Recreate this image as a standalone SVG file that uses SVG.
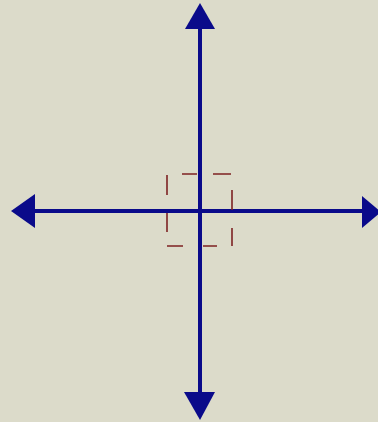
<svg xmlns="http://www.w3.org/2000/svg" width="378" height="422" viewBox="0 0 378 422">
<style>
.ax{stroke:#0a0a8a;stroke-width:4;fill:none}
.hd{fill:#0a0a8a}
.ds{stroke:#7e2222;stroke-width:1.6;fill:none}
</style>
<rect width="378" height="422" fill="#dcdbca"/>
<g id="connectors">
<line class="ax" x1="200" y1="26" x2="200" y2="394"/>
<line class="ax" x1="33" y1="211" x2="365" y2="211"/>
<polygon class="hd" points="200,3 215,29 185,29"/>
<polygon class="hd" points="200,420 215,392 184,392"/>
<polygon class="hd" points="11,211 35,194 35,228"/>
<polygon class="hd" points="381,212 362,196 362,228"/>
</g>
<g id="selection">
<path class="ds" d="M182,174H197M213,174H231M232,190V210M232,228V246M217,246H203M183,246H167M167,232V213M167,195V175"/>
</g>
</svg>
